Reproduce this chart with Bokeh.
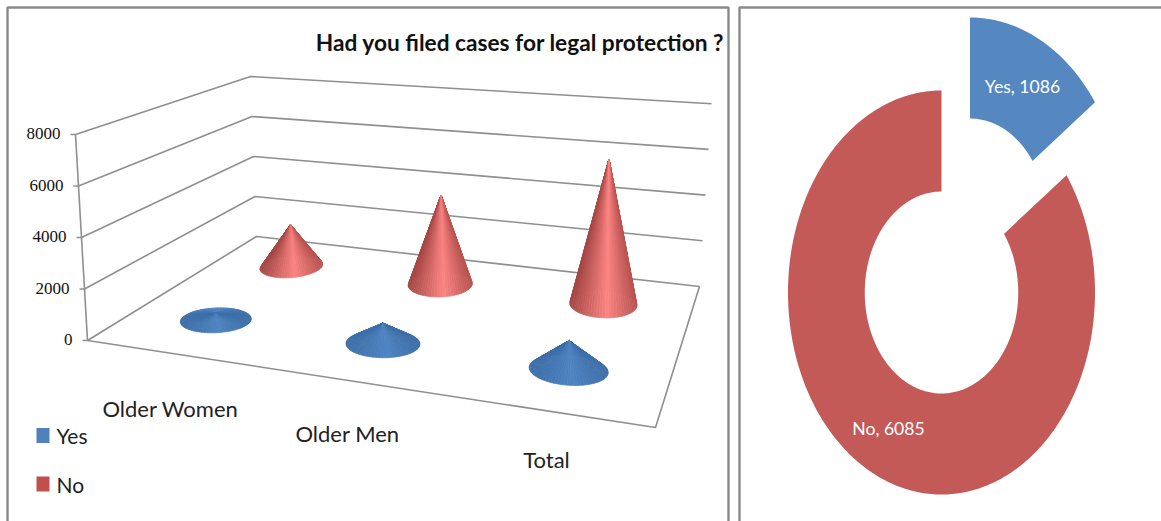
import math
from bokeh.plotting import figure
from bokeh.models import Range1d
from bokeh.core.properties import value
from bokeh.embed import file_html
from bokeh.resources import INLINE

# ---- data ----
title = "Had you filed cases for legal protection ?"
categories = ["Older Women", "Older Men", "Total"]
series_names = ["Yes", "No"]
yes_values = [270, 790, 1086]
no_values = [1900, 3900, 6085]
y_ticks = [0, 2000, 4000, 6000, 8000]
donut_labels = ["Yes", "No"]
donut_values = [1086, 6085]

# ---- style and layout ----
BLUE, RED = "#4f81bd", "#c0504d"
GRID = "#8f8f8f"
FONT, TICKFONT = "Lato", "Liberation Serif"

p = figure(width=1161, height=521, x_range=Range1d(0, 1161), y_range=Range1d(521, 0),
           output_backend="svg", toolbar_location=None, min_border=0,
           outline_line_color=None, background_fill_color="white",
           border_fill_color="white")
p.axis.visible = False
p.grid.visible = False

# panel frames
p.multi_line(xs=[[7, 7, 728, 728], [739, 739, 1161]], ys=[[521, 7, 7, 521], [521, 7, 7]],
             line_color="#8a8a8a", line_width=2.4)

# floor projection: unit square (u along categories, d into depth) -> chart plane
FL, BL, BR, FR = (87, 340), (256, 236), (699, 286), (655, 427)


def homography(p0, p1, p2, p3):
    # p0=(0,0) p1=(1,0) p2=(1,1) p3=(0,1)
    dx1, dx2 = p1[0] - p2[0], p3[0] - p2[0]
    dy1, dy2 = p1[1] - p2[1], p3[1] - p2[1]
    sx = p0[0] - p1[0] + p2[0] - p3[0]
    sy = p0[1] - p1[1] + p2[1] - p3[1]
    den = dx1 * dy2 - dx2 * dy1
    g = (sx * dy2 - dx2 * sy) / den
    h = (dx1 * sy - sx * dy1) / den
    a, b, c = p1[0] - p0[0] + g * p1[0], p3[0] - p0[0] + h * p3[0], p0[0]
    d, e, f = p1[1] - p0[1] + g * p1[1], p3[1] - p0[1] + h * p3[1], p0[1]
    return a, b, c, d, e, f, g, h


H = homography(FL, FR, BR, BL)


def floor(u, d):
    a, b, c, dd, e, f, g, h = H
    w = g * u + h * d + 1
    return (a * u + b * d + c) / w, (dd * u + e * d + f) / w


UNIT_FL, UNIT_BL, UNIT_BR, UNIT_FR = (-3.0, -51.5), (-1.5, -40.0), (3.0, -45.7), (1.5, -57.0)


def rise(u, d, v):
    k = v / 2000.0
    vx = (1-u)*(1-d)*UNIT_FL[0] + (1-u)*d*UNIT_BL[0] + u*d*UNIT_BR[0] + u*(1-d)*UNIT_FR[0]
    vy = (1-u)*(1-d)*UNIT_FL[1] + (1-u)*d*UNIT_BL[1] + u*d*UNIT_BR[1] + u*(1-d)*UNIT_FR[1]
    return vx * k, vy * k


def project(u, d, v=0.0):
    x, y = floor(u, d)
    rx, ry = rise(u, d, v)
    return x + rx, y + ry


# walls and floor
gx, gy = [], []
for t in y_ticks:
    a, b, c = project(0, 0, t), project(0, 1, t), project(1, 1, t)
    gx.append([a[0], b[0], c[0]])
    gy.append([a[1], b[1], c[1]])
a, b = project(1, 1), project(1, 0)
gx.append([a[0], b[0], FL[0]])
gy.append([a[1], b[1], FL[1]])
top = project(0, 0, y_ticks[-1])
gx.append([FL[0], top[0]])
gy.append([FL[1], top[1]])
for t in y_ticks:
    a = project(0, 0, t)
    gx.append([a[0], a[0] - 5])
    gy.append([a[1], a[1]])
p.multi_line(xs=gx, ys=gy, line_color=GRID, line_width=1.6)

# tick labels
tick_pts = [project(0, 0, t) for t in y_ticks]
p.text(x=[q[0] - 15 for q in tick_pts], y=[q[1] - 1 for q in tick_pts], text=[str(t) for t in y_ticks],
       text_align="right", text_baseline="middle", text_font=value(TICKFONT),
       text_font_size="17px", text_color="#111111")


def mix(c1, c2, t):
    c1 = [int(c1[i:i + 2], 16) for i in (1, 3, 5)]
    c2 = [int(c2[i:i + 2], 16) for i in (1, 3, 5)]
    return "#%02x%02x%02x" % tuple(round(a + (b - a) * t) for a, b in zip(c1, c2))


def cone(u, d, v, ra, rb, dark_l, light, dark_r):
    N = 72
    base = [(u + ra * math.cos(2 * math.pi * i / N), d + rb * math.sin(2 * math.pi * i / N)) for i in range(N)]
    pts = [floor(*b) for b in base]
    apex = project(u, d, v)
    xmin, xmax = min(q[0] for q in pts), max(q[0] for q in pts)
    tris = []
    for i in range(N):
        q0, q1 = pts[i], pts[(i + 1) % N]
        mx, my = (q0[0] + q1[0]) / 2, (q0[1] + q1[1]) / 2
        s = (mx - xmin) / (xmax - xmin)
        col = mix(dark_l, light, s / 0.55) if s < 0.55 else mix(light, dark_r, (s - 0.55) / 0.45)
        tris.append((my, [apex[0], q0[0], q1[0]], [apex[1], q0[1], q1[1]], col))
    tris.sort(key=lambda t: t[0])
    return tris


U = [1 / 6, 1 / 2, 5 / 6]
xs, ys, cols = [], [], []
for k, (vals, dep, ra, rb, shades) in enumerate([
    (no_values, 0.75, 0.064, 0.115, ("#a54745", "#fb8583", "#b85451")),
    (yes_values, 0.25, 0.066, 0.095, ("#3c6ea8", "#4f84c2", "#3c6ea8")),
]):
    for u, v in zip(U, vals):
        for _, tx, ty, c in cone(u, dep, v, ra, rb, *shades):
            xs.append(tx)
            ys.append(ty)
            cols.append(c)
p.patches(xs=xs, ys=ys, fill_color=cols, line_color=cols, line_width=0.7)

# category labels
p.text(x=[170, 347, 546], y=[408, 433, 459], text=categories, text_align="center", text_baseline="middle",
       text_font=value(FONT), text_font_size="22px", text_color="#222222")

# legend
p.rect(x=[42.5, 42.5], y=[435, 483.5], width=[13, 13], height=[15, 15], fill_color=[BLUE, RED], line_color=None)
p.text(x=[56, 56], y=[435, 484], text=series_names, text_baseline="middle",
       text_font=value(FONT), text_font_size="21px", text_color="#222222")

# title
p.text(x=[724], y=[42], text=[title], text_align="right", text_baseline="middle",
       text_font=value(FONT), text_font_style="bold", text_font_size="22.7px", text_color="#111111")

# ---- exploded donut ----
CX, CY, RX, RY, HOLE = 941, 292, 153.5, 202, 0.5
EXPLODE = (28.5, -73)
total = sum(donut_values)
cols = ["#5588c1", "#c45a57"]
start = 0.0
dx, dy, label_pos = [], [], [(1022, 86), (888, 428)]
for i, val in enumerate(donut_values):
    sweep = 2 * math.pi * val / total
    n = max(4, int(sweep * 60))
    ang = [start + sweep * j / n for j in range(n + 1)]
    ox, oy = EXPLODE if i == 0 else (0, 0)
    px = [CX + ox + RX * math.sin(a) for a in ang] + [CX + ox + RX * HOLE * math.sin(a) for a in reversed(ang)]
    py = [CY + oy - RY * math.cos(a) for a in ang] + [CY + oy - RY * HOLE * math.cos(a) for a in reversed(ang)]
    dx.append(px)
    dy.append(py)
    start += sweep
p.patches(xs=dx, ys=dy, fill_color=cols, line_color=None)
p.text(x=[q[0] for q in label_pos], y=[q[1] for q in label_pos],
       text=[f"{n}, {v}" for n, v in zip(donut_labels, donut_values)],
       text_align="center", text_baseline="middle", text_font=value(FONT), text_font_size="17.6px",
       text_color="white")

open("out.html", "w").write(file_html(p, INLINE))
